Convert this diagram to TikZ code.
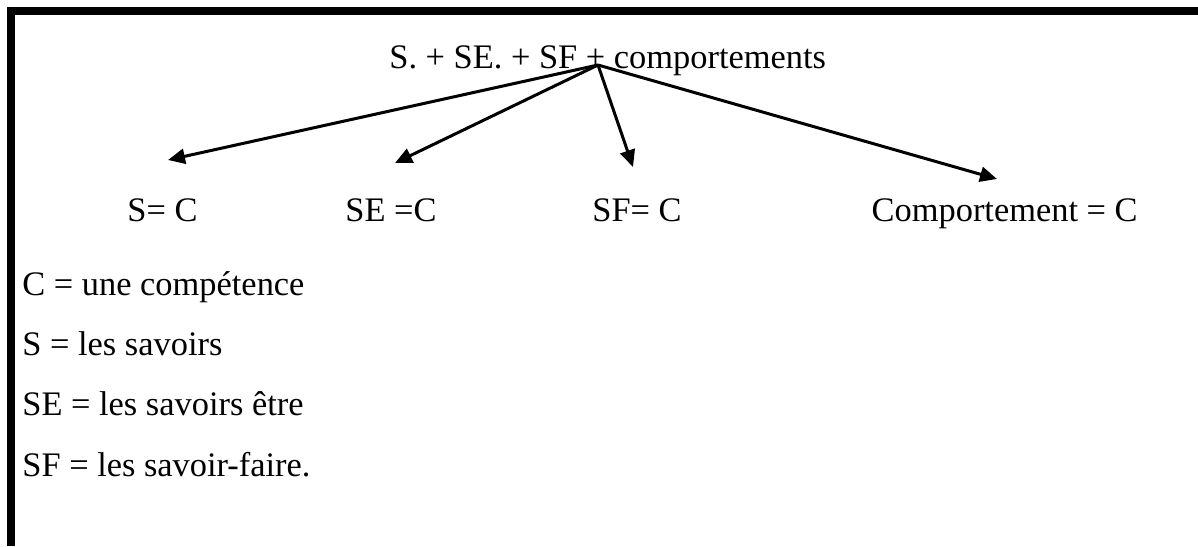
\documentclass[tikz,border=0pt]{standalone}
\usepackage{fontspec}
\setmainfont{Liberation Serif}
\usetikzlibrary{arrows.meta}
\begin{document}
\begin{tikzpicture}[x=0.5pt,y=-0.5pt,
  txt/.style={inner sep=0pt, anchor=base west, font=\fontsize{17.2}{20}\selectfont},
  arr/.style={line width=1.5pt, -{Triangle[length=8.5pt,width=7.5pt]}}]
\useasboundingbox (0,0) rectangle (1198,546);
\fill[black] (7,7) rectangle (1198,15);
\fill[black] (7,7) rectangle (15,546);
\node[txt] (title) at (389,68) {S. + SE. + SF + comportements};
\coordinate (o) at (598,65);
\node[txt] (s) at (127,221) {S= C};
\node[txt] (se) at (345,221) {SE =C};
\node[txt] (sf) at (592,221) {SF= C};
\node[txt, anchor=base east] (comp) at (1138,221) {Comportement = C};
\coordinate (ts) at (168,160);
\coordinate (tse) at (395,163);
\coordinate (tsf) at (633,167);
\coordinate (tc) at (997,179);
\draw[arr] (o) -- (ts);
\draw[arr] (o) -- (tse);
\draw[arr] (o) -- (tsf);
\draw[arr] (o) -- (tc);
\node[txt] (d1) at (22,295) {C = une compétence};
\node[txt] (d2) at (22,355) {S = les savoirs};
\node[txt] (d3) at (22,415) {SE = les savoirs être};
\node[txt] (d4) at (22,476) {SF = les savoir-faire.};
\end{tikzpicture}
\end{document}
